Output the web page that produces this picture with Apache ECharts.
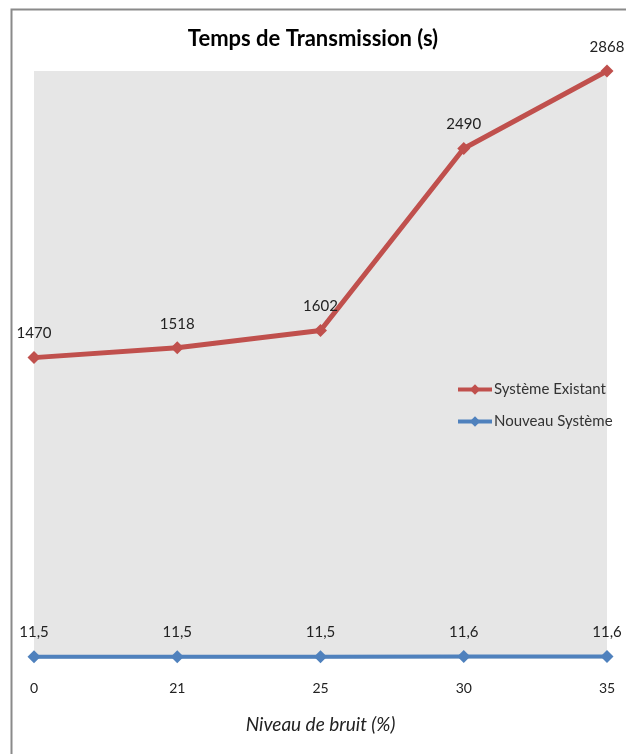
<!DOCTYPE html>
<html>
<head>
<meta charset="utf-8">
<script src="https://cdn.jsdelivr.net/npm/echarts@6/dist/echarts.min.js"></script>
<style>html,body{margin:0;padding:0;background:#fff}#c{width:626px;height:754px}</style>
</head>
<body>
<div id="c"></div>
<script>
const categories = ['0', '21', '25', '30', '35'];
const existant = [1470, 1518, 1602, 2490, 2868];
const nouveau = [11.5, 11.5, 11.5, 11.6, 11.6];
const titleText = 'Temps de Transmission (s)';
const xName = 'Niveau de bruit (%)';
const seriesNames = ['Système Existant', 'Nouveau Système'];

const FONT = 'Lato, "Open Sans", sans-serif';
const fmt = p => String(p.value).replace('.', ',');

const chart = echarts.init(document.getElementById('c'), null, {renderer: 'canvas'});
chart.setOption({
  animation: false,
  backgroundColor: '#ffffff',
  title: {
    text: titleText, left: 'center', top: 23,
    textStyle: {fontFamily: FONT, fontSize: 22, fontWeight: 'bold', color: '#000'}
  },
  graphic: [{
    type: 'rect', left: 9, top: 7, shape: {width: 660, height: 800},
    style: {fill: 'none', stroke: '#8a8a8a', lineWidth: 2}, silent: true, z: -1
  }],
  legend: {
    orient: 'vertical', left: 451, top: 377, itemWidth: 34, itemHeight: 13, itemGap: 17,
    textStyle: {fontFamily: FONT, fontSize: 15, color: '#333', padding: [0, 0, 0, -3]},
    lineStyle: {width: 4},
    data: seriesNames
  },
  grid: {
    left: 34, right: 19, top: 71, bottom: 95, show: true,
    backgroundColor: '#e6e6e6', borderWidth: 0
  },
  xAxis: {
    type: 'category', data: categories, boundaryGap: false,
    axisLine: {show: false}, axisTick: {show: false},
    axisLabel: {fontFamily: FONT, fontSize: 14, color: '#222', margin: 22},
    name: xName, nameLocation: 'middle', nameGap: 56,
    nameTextStyle: {fontFamily: FONT, fontSize: 19, fontStyle: 'italic', color: '#222'}
  },
  yAxis: {
    type: 'value', min: 0, max: 2868,
    axisLine: {show: false}, axisTick: {show: false}, axisLabel: {show: false},
    splitLine: {show: false}
  },
  series: [{
    name: seriesNames[0], type: 'line', data: existant,
    symbol: 'diamond', symbolSize: 13,
    itemStyle: {color: '#c0504d'}, lineStyle: {width: 5, color: '#c0504d'},
    label: {show: true, position: 'top', distance: 10, formatter: fmt,
      fontFamily: FONT, fontSize: 15, color: '#222'},
    z: 3
  }, {
    name: seriesNames[1], type: 'line', data: nouveau,
    symbol: 'diamond', symbolSize: 13,
    itemStyle: {color: '#4f81bd'}, lineStyle: {width: 4, color: '#4f81bd'},
    label: {show: true, position: 'top', distance: 10, formatter: fmt,
      fontFamily: FONT, fontSize: 15, color: '#222'},
    z: 2
  }]
});
</script>
</body>
</html>
